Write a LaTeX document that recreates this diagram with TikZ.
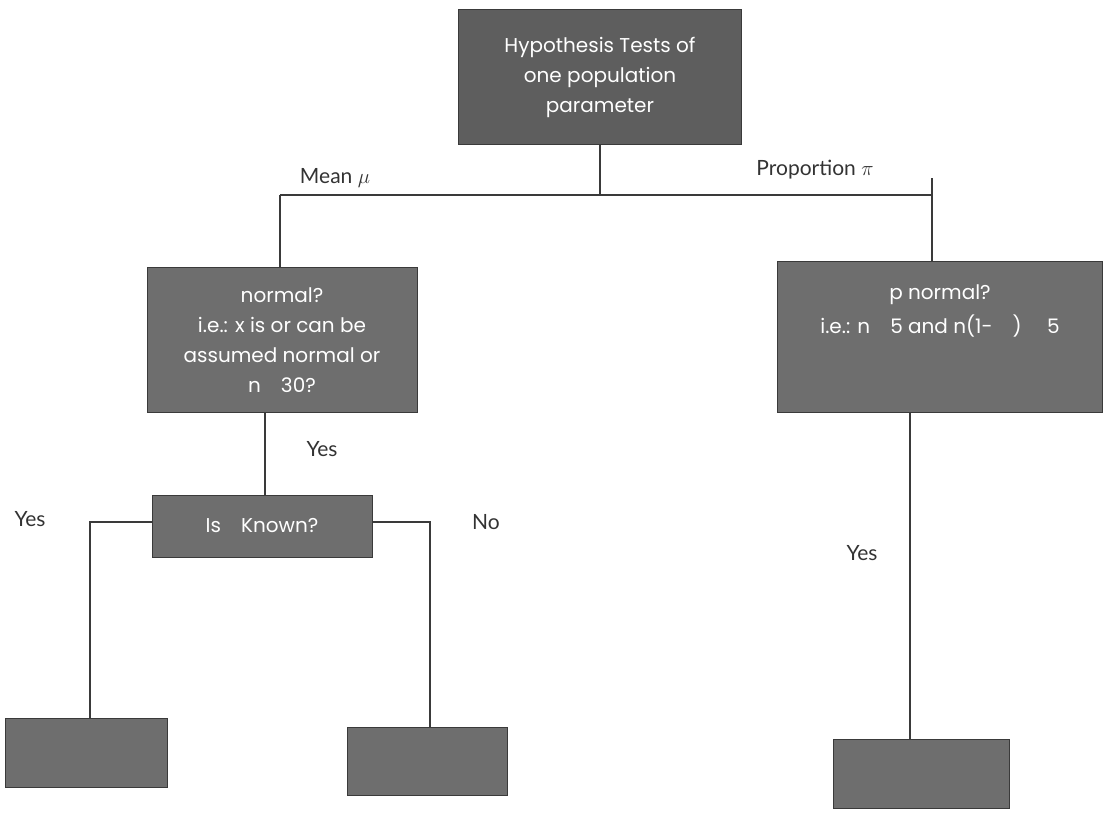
\documentclass[tikz,border=0pt]{standalone}
\usepackage{fontspec}
\setmainfont{Poppins}
\newfontfamily\labelfont{Lato}
\definecolor{boxgray}{HTML}{6E6E6E}
\definecolor{topgray}{HTML}{5E5E5E}
\definecolor{linegray}{HTML}{3A3A3A}
\begin{document}
\begin{tikzpicture}[x=1pt,y=-1pt,
  box/.style={draw=linegray, line width=0.8pt, fill=boxgray, text=white, align=center, inner sep=0pt, font=\fontsize{20}{30}\selectfont},
  conn/.style={draw=linegray, line width=2pt},
  lbl/.style={font=\labelfont\fontsize{21}{24}\selectfont, text=black!80}]
\useasboundingbox (0,0) rectangle (1109,812);
% nodes
\node[box, fill=topgray, minimum width=283pt, minimum height=135pt] (top) at (600,77) {Hypothesis Tests of\\one population\\parameter};
\node[box, minimum width=270pt, minimum height=145pt] (left) at (282,340) {normal?\\i.e.: x is or can be\\assumed normal or\\n\quad30?};
\node[box, minimum width=325pt, minimum height=151pt] (right) at (940,337) {p normal?\\[4pt]i.e.: n\quad5 and n(1-\quad)\quad\ 5\\[25pt]};
\node[box, minimum width=220pt, minimum height=62pt] (known) at (262,526) {Is\quad Known?};
\node[box, minimum width=162pt, minimum height=69pt] (bl) at (86,753) {};
\node[box, minimum width=160pt, minimum height=68pt] (bm) at (427,761) {};
\node[box, minimum width=176pt, minimum height=69pt] (br) at (921,774) {};
% labels
\node[lbl] (lmean) at (335,178) {Mean $\mu$};
\node[lbl] (lprop) at (815,170) {Proportion $\pi$};
\node[lbl] (lyes1) at (322,449) {Yes};
\node[lbl] (lyes2) at (30,519) {Yes};
\node[lbl] (lno) at (486,522) {No};
\node[lbl] (lyes3) at (862,553) {Yes};
% junctions
\coordinate (jm) at (600,195);
\coordinate (jl) at (280,195);
\coordinate (jr) at (932,195);
\coordinate (jrt) at (932,178);
\coordinate (kl) at (90,522);
\coordinate (kr) at (430,522);
\coordinate (rv) at (910,413);
% connectors
\draw[conn] (top.south -| jm) -- (jm);
\draw[conn] (jl) -- (jr);
\draw[conn] (jl) -- (left.north -| jl);
\draw[conn] (jrt) -- (right.north -| jr);
\draw[conn] (left.south -| 265,0) -- (known.north -| 265,0);
\draw[conn] (known.west |- kl) -- (kl) -- (bl.north -| kl);
\draw[conn] (known.east |- kr) -- (kr) -- (bm.north -| kr);
\draw[conn] (right.south -| rv) -- (br.north -| rv);
\end{tikzpicture}
\end{document}
